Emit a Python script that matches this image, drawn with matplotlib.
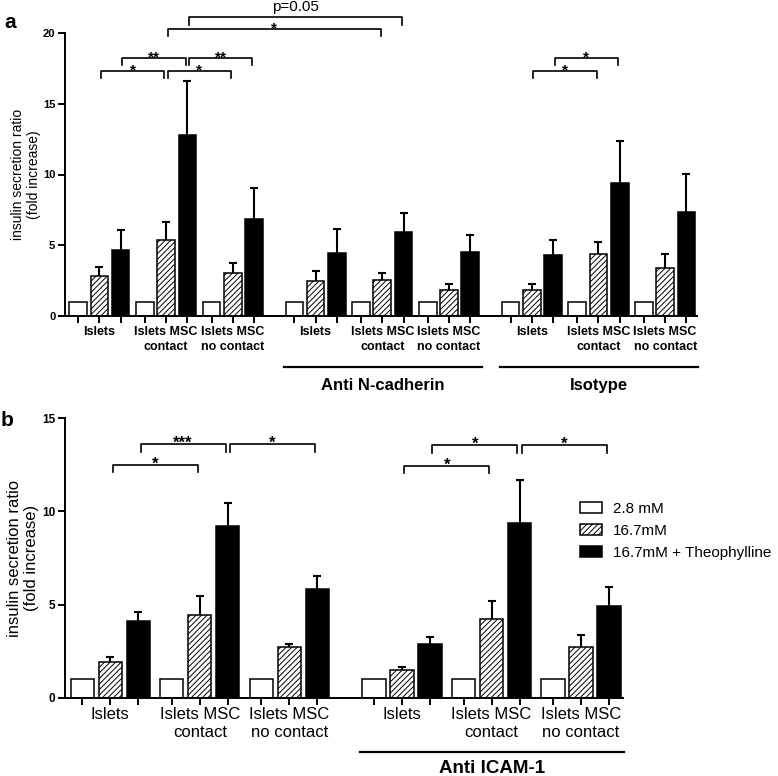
import matplotlib
matplotlib.use("Agg")
import matplotlib.pyplot as plt
from matplotlib.patches import Patch
import numpy as np

plt.rcParams["font.family"] = ["Liberation Sans", "DejaVu Sans"]
plt.rcParams["hatch.linewidth"] = 0.7

series_names = ["2.8 mM", "16.7mM", "16.7mM + Theophylline"]
group_labels = ["Islets", "Islets MSC\ncontact", "Islets MSC\nno contact"]

# panel a: control / anti N-cadherin / isotype, 3 groups each
a_low = [1.0, 1.0, 1.0, 1.0, 1.0, 1.0, 1.0, 1.0, 1.0]
a_high = [2.85, 5.37, 3.02, 2.47, 2.54, 1.84, 1.84, 4.38, 3.37]
a_high_err = [0.64, 1.29, 0.75, 0.73, 0.52, 0.44, 0.40, 0.82, 1.01]
a_theo = [4.66, 12.79, 6.83, 4.47, 5.96, 4.54, 4.31, 9.38, 7.33]
a_theo_err = [1.42, 3.81, 2.19, 1.65, 1.34, 1.16, 1.06, 3.01, 2.73]
a_blocks = ["", "Anti N-cadherin", "Isotype"]
a_yticks = [0, 5, 10, 15, 20]
# (group 1, group 2, series, height, label)
a_sig = [
    (0, 1, 1, 17.3, "*"),
    (0, 1, 2, 18.25, "**"),
    (1, 2, 1, 17.3, "*"),
    (1, 2, 2, 18.25, "**"),
    (1, 4, 1, 20.3, "*"),
    (1, 4, 2, 21.1, "p=0.05"),
    (6, 7, 1, 17.3, "*"),
    (6, 7, 2, 18.25, "*"),
]

# panel b: control / anti ICAM-1
b_low = [1.0, 1.0, 1.0, 1.0, 1.0, 1.0]
b_high = [1.93, 4.42, 2.70, 1.49, 4.22, 2.74]
b_high_err = [0.27, 1.04, 0.16, 0.14, 0.99, 0.63]
b_theo = [4.13, 9.22, 5.82, 2.88, 9.36, 4.94]
b_theo_err = [0.49, 1.21, 0.71, 0.36, 2.33, 0.99]
b_blocks = ["", "Anti ICAM-1"]
b_yticks = [0, 5, 10, 15]
b_sig = [
    (0, 1, 1, 12.5, "*"),
    (0, 1, 2, 13.6, "***"),
    (1, 2, 2, 13.6, "*"),
    (3, 4, 1, 12.45, "*"),
    (3, 4, 2, 13.55, "*"),
    (4, 5, 2, 13.55, "*"),
]

W = 0.83


def bar_positions(n_groups, group_step, block_gap):
    g = np.arange(n_groups)
    base = g * group_step + (g // 3) * block_gap
    return base[:, None] + np.arange(3)[None, :]


def draw_panel(ax, pos, low, high, high_err, theo, theo_err, sig, blocks,
               yticks, bracket_tick, star_size, label_font, line_y, text_y,
               block_size):
    ax.bar(pos[:, 0], low, width=W, color="white", edgecolor="black", lw=1.1, zorder=2)
    ax.bar(pos[:, 1], high, width=W, color="white", edgecolor="black", lw=1.1,
           hatch="//////", zorder=2)
    ax.bar(pos[:, 2], theo, width=W, color="black", edgecolor="black", lw=1.1, zorder=2)
    for s, vals, errs in [(1, high, high_err), (2, theo, theo_err)]:
        eb = ax.errorbar(pos[:, s], vals, yerr=[np.zeros(len(errs)), errs],
                         fmt="none", ecolor="black", elinewidth=1.5, capsize=3,
                         capthick=1.5, zorder=1)
        eb[1][0].set_visible(False)

    # significance brackets
    for g1, g2, s, y, lab in sig:
        x1 = pos[g1, s] + 0.08
        x2 = pos[g2, s] - 0.08
        ax.plot([x1, x1, x2, x2], [y - bracket_tick, y, y, y - bracket_tick],
                color="black", lw=1.2, clip_on=False)
        if lab.startswith("*"):
            ax.annotate(lab, ((x1 + x2) / 2, y), xytext=(0, -2.5),
                        textcoords="offset points", ha="center", va="baseline",
                        fontsize=star_size, fontweight="bold", annotation_clip=False)
        else:
            ax.annotate(lab, ((x1 + x2) / 2, y), xytext=(0, 4.5),
                        textcoords="offset points", ha="center", va="baseline",
                        fontsize=11, annotation_clip=False)

    ax.set_xlim(pos[0, 0] - 0.62, pos[-1, 2] + 0.5)
    ax.set_ylim(0, yticks[-1])
    ax.set_yticks(yticks)
    ax.set_xticks(pos.ravel())
    labels = []
    for i in range(len(pos)):
        labels += ["", group_labels[i % 3], ""]
    ax.set_xticklabels(labels, fontsize=label_font[0], fontweight=label_font[1])
    for t in ax.get_xticklabels():
        t.set_linespacing(label_font[2])
    for t in ax.get_yticklabels():
        t.set_fontweight("bold")
        t.set_fontsize(label_font[3])
    ax.tick_params(axis="both", length=5, width=1.4, pad=2)
    for side in ["top", "right"]:
        ax.spines[side].set_visible(False)
    for side in ["left", "bottom"]:
        ax.spines[side].set_linewidth(1.4)

    tr = ax.get_xaxis_transform()
    for b, name in enumerate(blocks):
        if not name:
            continue
        xl = pos[3 * b, 0] - W / 2 - 0.08
        xr = pos[3 * b + 2, 2] + W / 2 + 0.12
        ax.plot([xl, xr], [line_y, line_y], color="black", lw=1.6,
                transform=tr, clip_on=False)
        ax.text((xl + xr) / 2, text_y, name, transform=tr, ha="center",
                va="center", fontsize=block_size, fontweight="bold")


fig = plt.figure(figsize=(7.78, 7.76), dpi=100)

ax_a = fig.add_axes([65 / 778, 1 - 316 / 776, 632 / 778, 283 / 776])
pos_a = bar_positions(9, 3.14, 0.76)
draw_panel(ax_a, pos_a, a_low, a_high, a_high_err, a_theo, a_theo_err, a_sig,
           a_blocks, a_yticks, 0.5, 11, (9, "bold", 1.35, 8), -0.179, -0.244, 12)
ax_a.set_ylabel("insulin secretion ratio\n(fold increase)", fontsize=10, labelpad=1)

ax_b = fig.add_axes([65 / 778, 1 - 697.7 / 776, 558 / 778, 279.4 / 776])
pos_b = bar_positions(6, 3.2, 0.83)
draw_panel(ax_b, pos_b, b_low, b_high, b_high_err, b_theo, b_theo_err, b_sig,
           b_blocks, b_yticks, 0.4, 12, (12, "normal", 1.2, 8.5), -0.194, -0.255, 13.5)
ax_b.set_ylabel("insulin secretion ratio\n(fold increase)", fontsize=12, labelpad=2)

handles = [
    Patch(facecolor="white", edgecolor="black", lw=1.1),
    Patch(facecolor="white", edgecolor="black", lw=1.1, hatch="//////"),
    Patch(facecolor="black", edgecolor="black", lw=1.1),
]
ax_b.legend(handles, series_names, loc="upper left",
            bbox_to_anchor=(580 / 778, 1 - 502 / 776), bbox_transform=fig.transFigure,
            frameon=False, fontsize=11, handlelength=1.45, handleheight=0.7,
            handletextpad=0.7, labelspacing=0.52, borderpad=0, borderaxespad=0)

fig.text(10 / 778, 1 - 23 / 776, "a", fontsize=15, fontweight="bold", ha="center", va="center")
fig.text(7 / 778, 1 - 420 / 776, "b", fontsize=15, fontweight="bold", ha="center", va="center")

fig.savefig("out.png", dpi=100)
